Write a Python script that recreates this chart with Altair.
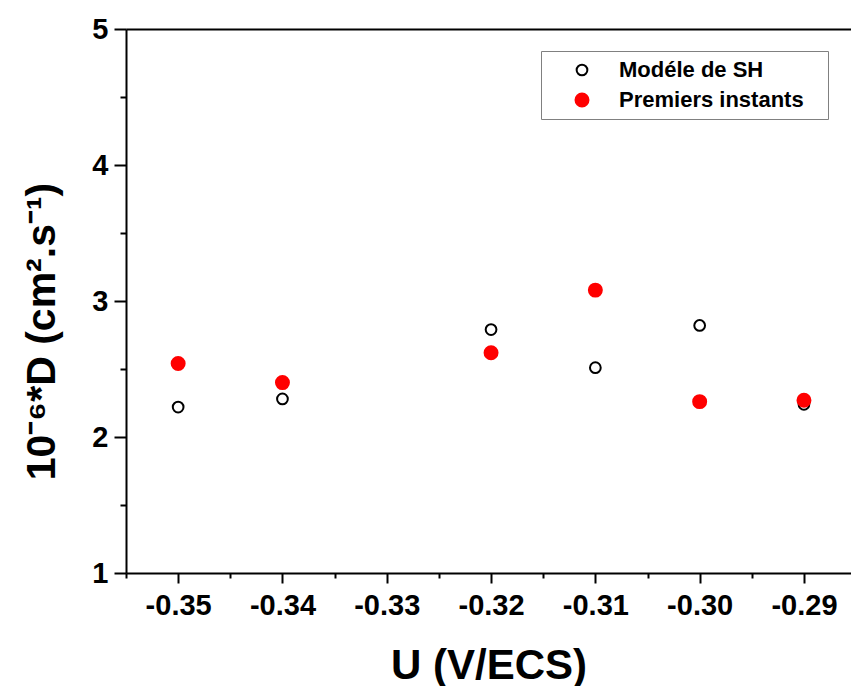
import altair as alt
import pandas as pd

# ---- data ----
U = [-0.35, -0.34, -0.32, -0.31, -0.30, -0.29]
sh_model = [2.22, 2.28, 2.79, 2.51, 2.82, 2.24]
premiers = [2.54, 2.40, 2.62, 3.08, 2.26, 2.27]
series_names = ["Modéle de SH", "Premiers instants"]

x_major = [-0.35, -0.34, -0.33, -0.32, -0.31, -0.30, -0.29]
x_minor = [-0.355, -0.345, -0.335, -0.325, -0.315, -0.305, -0.295]
y_major = [1, 2, 3, 4, 5]
y_minor = [1.5, 2.5, 3.5, 4.5]

rows = []
for u, v in zip(U, sh_model):
    rows.append({"U": u, "D": v, "series": series_names[0]})
for u, v in zip(U, premiers):
    rows.append({"U": u, "D": v, "series": series_names[1]})
df = pd.DataFrame(rows)

FONT = "Liberation Sans"
xdom = [-0.355, -0.28549]
ydom = [1, 5]
xscale = alt.Scale(domain=xdom, nice=False, zero=False)
yscale = alt.Scale(domain=ydom, nice=False, zero=False)

LEG_EXPR = "datum.label + '\u2800'"

points = alt.Chart(df).mark_point(shape="circle", strokeWidth=2, opacity=1).encode(
    x=alt.X("U:Q", scale=xscale, axis=alt.Axis(
        orient="bottom", values=x_major,
        labelExpr="'-' + format(abs(datum.value), '.2f')",
        tickSize=10, tickWidth=2, tickColor="black",
        domainWidth=2, domainColor="black", grid=False,
        labelFontSize=29, labelFontWeight="bold", labelColor="black",
        labelBaseline="alphabetic", labelPadding=31,
        title="U (V/ECS)", titleFontSize=42, titleFontWeight="bold",
        titleColor="black", titleBaseline="alphabetic", titleY=105)),
    y=alt.Y("D:Q", scale=yscale, axis=alt.Axis(
        orient="left", values=y_major, format="d",
        tickSize=12, tickWidth=2, tickColor="black",
        domainWidth=2, domainColor="black", grid=False,
        labelFontSize=29, labelFontWeight="bold", labelColor="black",
        labelPadding=6,
        title="10⁻⁶*D (cm².s⁻¹)", titleFontSize=41, titleFontWeight="bold",
        titleColor="black", titleAngle=270, titleAlign="center",
        titleBaseline="alphabetic", titleX=-72, titleY=302)),
    fill=alt.Fill("series:N", scale=alt.Scale(domain=series_names, range=["transparent", "#ff0000"]),
                  legend=alt.Legend(title=None, labelExpr=LEG_EXPR)),
    stroke=alt.Stroke("series:N", scale=alt.Scale(domain=series_names, range=["black", "#ff0000"]),
                      legend=alt.Legend(title=None, labelExpr=LEG_EXPR)),
    size=alt.Size("series:N", scale=alt.Scale(domain=series_names, range=[115, 168]),
                  legend=alt.Legend(title=None, labelExpr=LEG_EXPR)),
    order=alt.Order("series:N"),
)

minor_x = alt.Chart(pd.DataFrame({"mx": x_minor})).mark_point(opacity=0).encode(
    x=alt.X("mx:Q", scale=xscale, axis=alt.Axis(
        orient="bottom", values=x_minor, labels=False, domain=False, grid=False,
        tickSize=5, tickWidth=2, tickColor="black", title=None)),
)
minor_y = alt.Chart(pd.DataFrame({"my": y_minor})).mark_point(opacity=0).encode(
    y=alt.Y("my:Q", scale=yscale, axis=alt.Axis(
        orient="left", values=y_minor, labels=False, domain=False, grid=False,
        tickSize=6, tickWidth=2, tickColor="black", title=None)),
)
top_line = alt.Chart(pd.DataFrame({"tx": [x_major[0]]})).mark_point(opacity=0).encode(
    x=alt.X("tx:Q", scale=xscale, axis=alt.Axis(
        orient="top", labels=False, ticks=False, grid=False,
        domainWidth=2, domainColor="black", title=None)),
)

chart = alt.layer(minor_x, minor_y, top_line, points).resolve_axis(
    x="independent", y="independent"
).properties(
    width=725, height=544,
    autosize=alt.AutoSizeParams(type="none"),
    padding={"left": 126, "top": 29, "right": 0, "bottom": 113},
    background="white",
).configure_view(
    strokeWidth=0
).configure(
    font=FONT
).configure_legend(
    orient="none", legendX=415, legendY=22,
    strokeColor="#808080", strokeWidth=1, padding=8,
    symbolOffset=22, labelOffset=26, rowPadding=8, labelLimit=400,
    labelFontSize=22, labelFontWeight="bold", labelColor="black", labelFont=FONT,
    symbolStrokeWidth=2, symbolOpacity=1,
)

chart.save("out.html", embed_options={"renderer": "svg", "actions": False})
